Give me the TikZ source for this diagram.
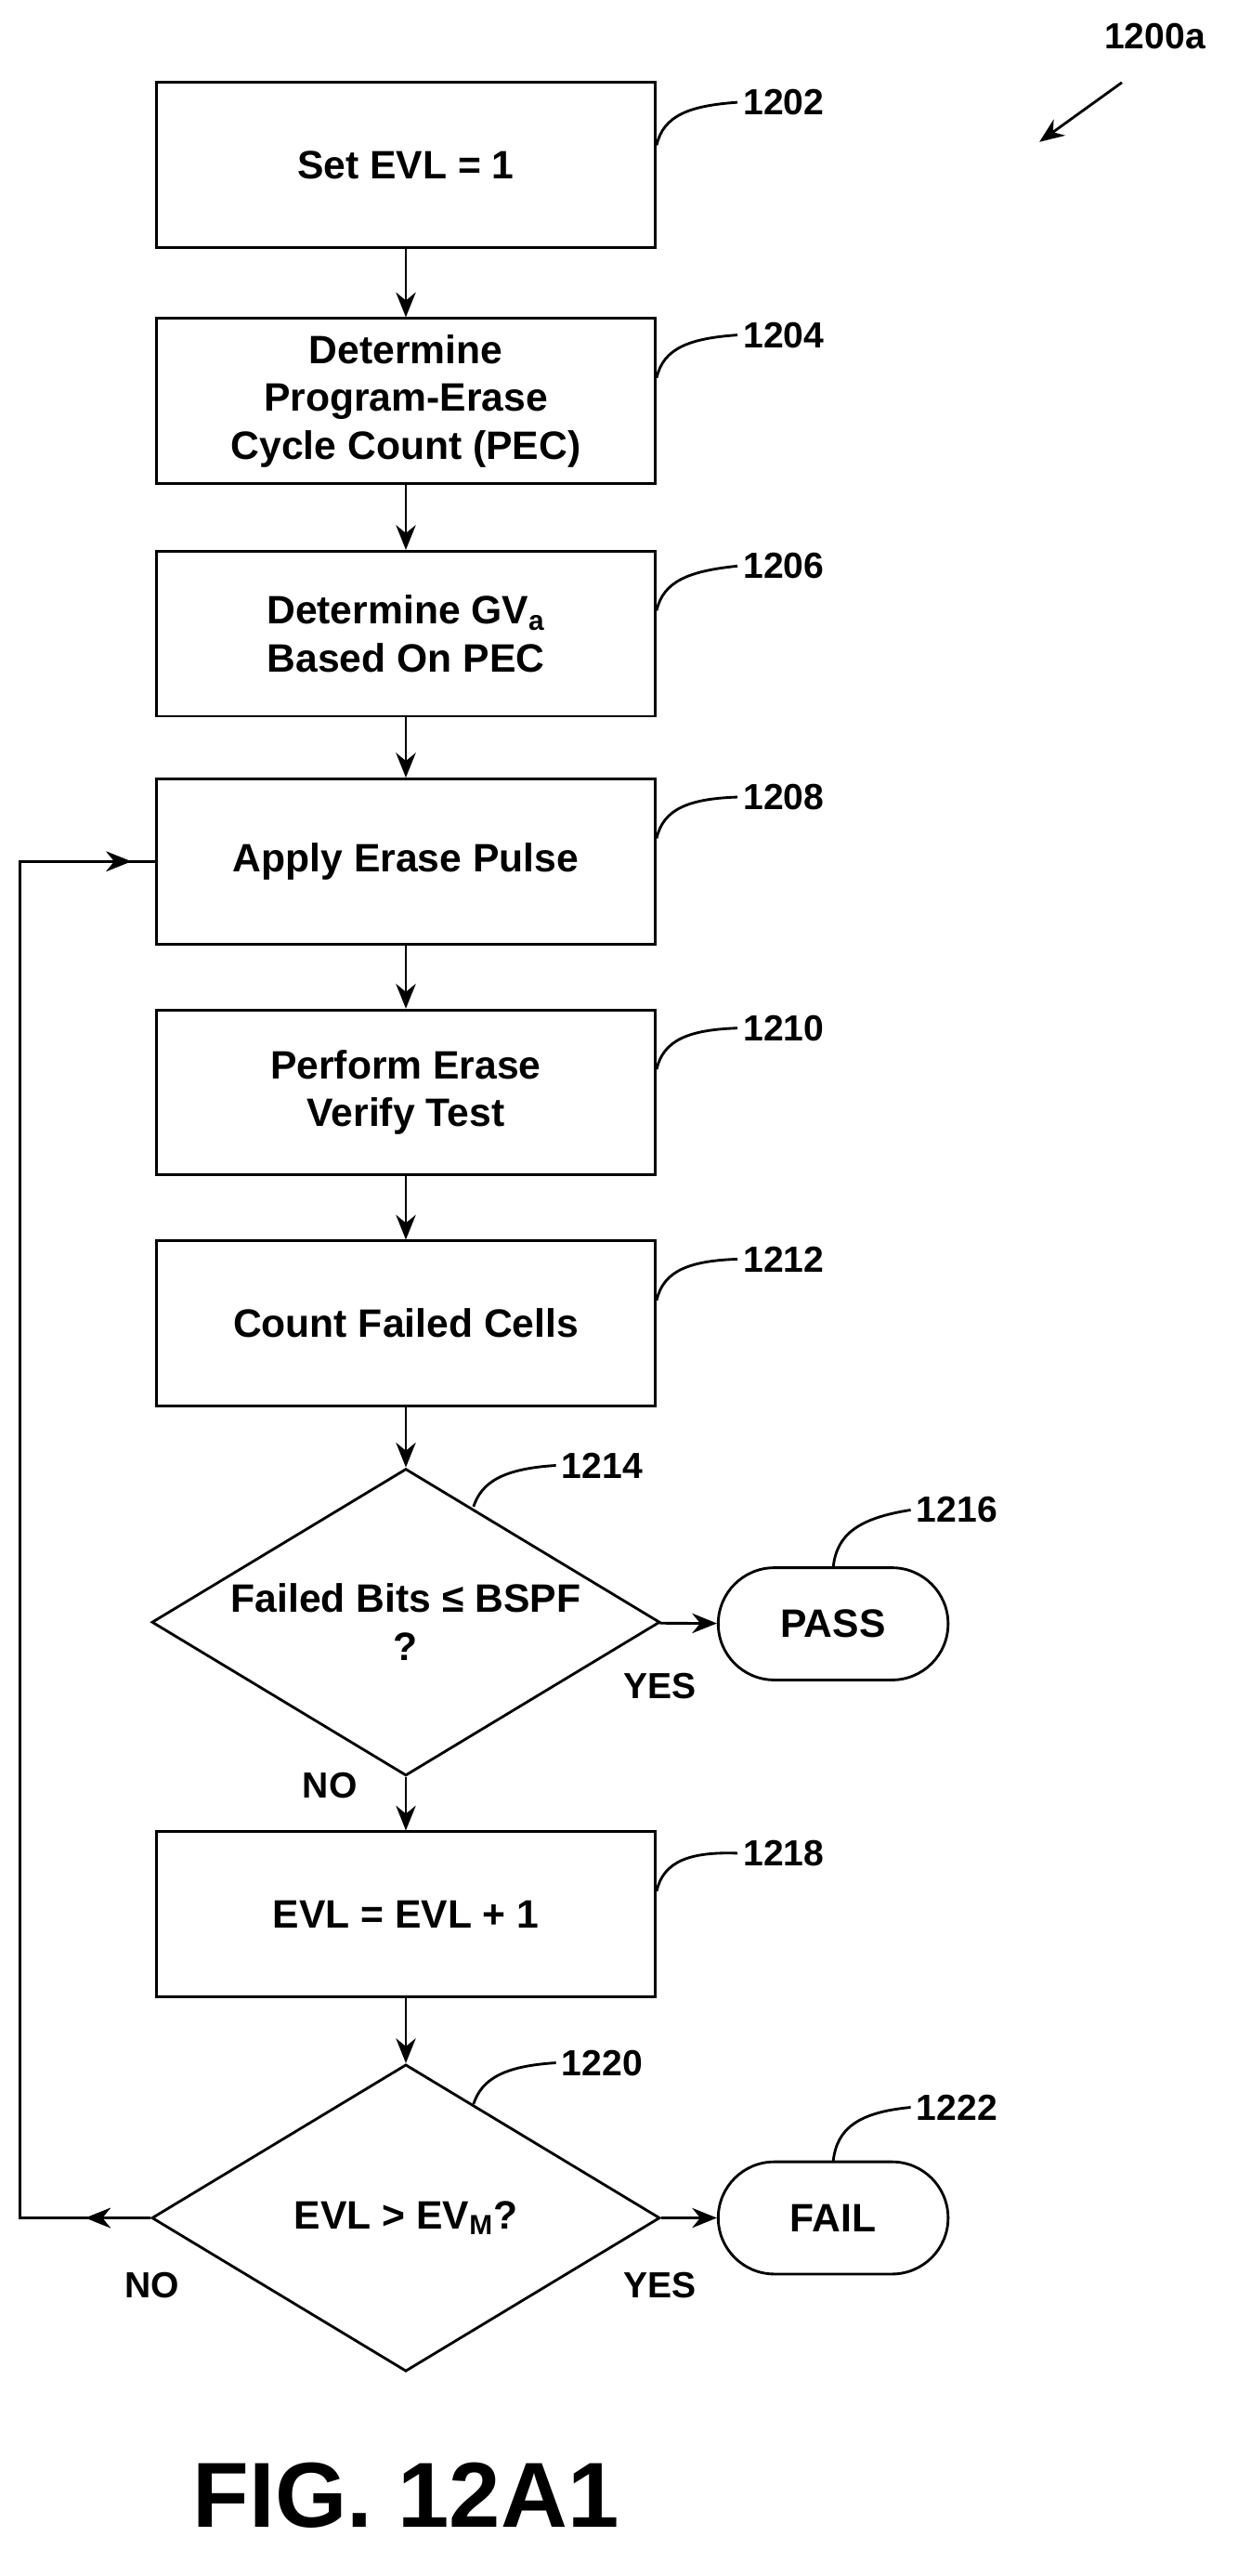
\documentclass[tikz,border=0pt]{standalone}
\usepackage{fontspec}
\setmainfont{Liberation Sans}
\usetikzlibrary{shapes.geometric,shapes.misc,arrows.meta,positioning,decorations.markings}

\tikzset{
  box/.style={draw,line width=1.6pt,minimum width=302pt,minimum height=100pt,align=center,font=\fontsize{24}{29}\selectfont\bfseries},
  dec/.style={draw,diamond,line width=1.6pt,minimum width=308pt,minimum height=186pt,inner sep=0pt,aspect=1.66,align=center,font=\fontsize{24}{29}\selectfont\bfseries},
  term/.style={draw,rounded rectangle,line width=1.6pt,minimum width=146pt,minimum height=68pt,font=\fontsize{24}{29}\selectfont\bfseries},
  lbl/.style={font=\fontsize{22}{25}\selectfont\bfseries},
  arr/.style={line width=1.6pt,-{Stealth[length=15pt,width=12pt]}},
  lead/.style={line width=1.6pt},
  midarr/.style={postaction={decorate},decoration={markings,mark=at position #1 with {\arrow{Stealth[length=15pt,width=12pt]}}}}
}

\begin{document}
\begin{tikzpicture}[x=1pt,y=-1pt]
  \useasboundingbox (0,0) rectangle (750,1561);

  \node[box] (b1202) at (246,100) {Set EVL = 1};
  \node[box] (b1204) at (246,243) {Determine\\Program-Erase\\Cycle Count (PEC)};
  \node[box] (b1206) at (246,384) {Determine GV\textsubscript{a}\\Based On PEC};
  \node[box] (b1208) at (246,522) {Apply Erase Pulse};
  \node[box] (b1210) at (246,662) {Perform Erase\\Verify Test};
  \node[box] (b1212) at (246,802) {Count Failed Cells};
  \node[dec] (d1214) at (246,983) {Failed Bits ≤ BSPF\\?};
  \node[term] (t1216) at (505,984) {PASS};
  \node[box] (b1218) at (246,1160) {EVL = EVL + 1};
  \node[dec] (d1220) at (246,1344) {EVL > EV\textsubscript{M}?};
  \node[term] (t1222) at (505,1344) {FAIL};

  \foreach \from/\to in {b1202/b1204,b1204/b1206,b1206/b1208,b1208/b1210,b1210/b1212,b1212/d1214,d1214/b1218,b1218/d1220}
    \draw[arr] (\from) -- (\to);
  \draw[arr] (d1214) -- (t1216);
  \draw[arr] (d1220) -- (t1222);
  \coordinate (loop) at (12,1344);
  \draw[lead,midarr=0.04,midarr=0.985] (d1220.west) -- (loop) |- (b1208.west);

  \node[lbl] at (400,1022) {YES};
  \node[lbl] at (200,1082) {NO};
  \node[lbl] at (92,1385) {NO};
  \node[lbl] at (400,1385) {YES};

  % step numbers
  \foreach \n/\y in {1202/62,1204/203,1206/343,1208/483,1210/623,1212/763,1218/1123}
    \node[lbl] (n\n) at (475,\y) {\n};
  \foreach \n/\y in {1202/88,1204/229,1206/370,1208/508,1210/648,1212/788,1218/1146}
    \draw[lead] (398,\y) .. controls (402,\y-18) and (418,\y-24) .. (n\n.west);
  \node[lbl] (n1214) at (365,888) {1214};
  \draw[lead] (287,913) .. controls (292,898) and (305,890) .. (n1214.west);
  \node[lbl] (n1220) at (365,1250) {1220};
  \draw[lead] (287,1275) .. controls (292,1260) and (305,1252) .. (n1220.west);
  \node[lbl] (n1216) at (580,915) {1216};
  \draw[lead] (505,950) .. controls (507,930) and (520,920) .. (n1216.west);
  \node[lbl] (n1222) at (580,1277) {1222};
  \draw[lead] (505,1310) .. controls (507,1290) and (520,1280) .. (n1222.west);

  \node[lbl] (n1200) at (700,22) {1200a};
  \coordinate (tip) at (630,86);
  \draw[arr] (680,50) -- (tip);

  \node[font=\fontsize{56}{62}\selectfont\bfseries] (fig) at (246,1512) {FIG. 12A1};
\end{tikzpicture}
\end{document}
